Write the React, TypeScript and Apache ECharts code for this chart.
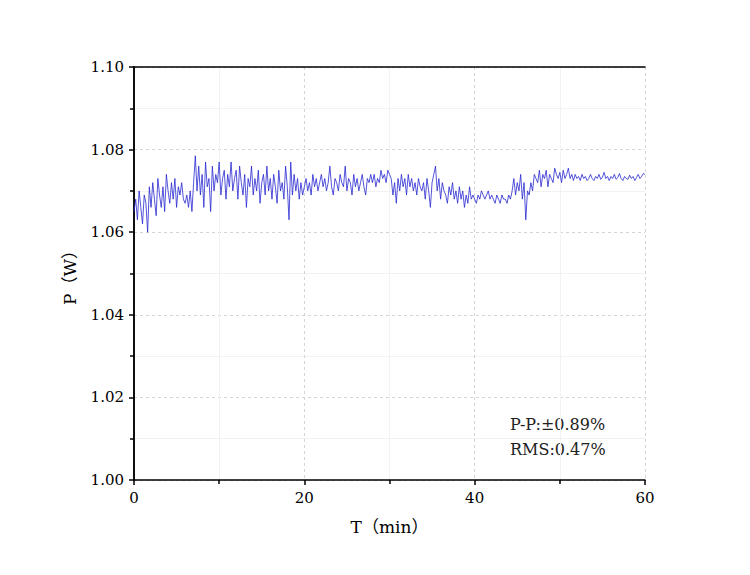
import { useEffect, useRef } from "react";
import * as echarts from "echarts";

const STEP = 0.2; // minutes between samples
const powerValues = [
  1.065, 1.068, 1.063, 1.07, 1.066, 1.062, 1.069, 1.067, 1.06, 1.071,
  1.066, 1.072, 1.068, 1.064, 1.073, 1.069, 1.066, 1.071, 1.065, 1.074,
  1.07, 1.067, 1.072, 1.068, 1.073, 1.066, 1.071, 1.069, 1.072, 1.068,
  1.067, 1.069, 1.066, 1.07, 1.065, 1.072, 1.0785, 1.07, 1.076, 1.069,
  1.074, 1.066, 1.077, 1.071, 1.073, 1.065, 1.076, 1.07, 1.074, 1.072,
  1.077, 1.069, 1.073, 1.075, 1.068, 1.074, 1.071, 1.077, 1.07, 1.073,
  1.075, 1.068, 1.076, 1.072, 1.069, 1.074, 1.066, 1.073, 1.071, 1.076,
  1.069, 1.073, 1.07, 1.075, 1.067, 1.072, 1.074, 1.069, 1.076, 1.07,
  1.073, 1.068, 1.074, 1.071, 1.067, 1.075, 1.07, 1.072, 1.068, 1.076,
  1.071, 1.063, 1.077, 1.069, 1.074, 1.07, 1.073, 1.068, 1.072, 1.069,
  1.071, 1.073, 1.07, 1.072, 1.069, 1.074, 1.071, 1.073, 1.07, 1.072,
  1.074, 1.071, 1.073, 1.07, 1.072, 1.076, 1.071, 1.069, 1.073, 1.072,
  1.07, 1.074, 1.072, 1.071, 1.076, 1.07, 1.073, 1.072, 1.069, 1.074,
  1.071, 1.073, 1.07, 1.072, 1.074, 1.071, 1.069, 1.073, 1.072, 1.074,
  1.072, 1.074, 1.071, 1.073, 1.072, 1.075, 1.073, 1.074, 1.072, 1.075,
  1.074, 1.073, 1.069, 1.072, 1.067, 1.073, 1.07, 1.074, 1.071, 1.073,
  1.069, 1.074, 1.071, 1.073, 1.07, 1.072, 1.069, 1.073, 1.071, 1.07,
  1.072, 1.068, 1.073, 1.07, 1.066, 1.072, 1.074, 1.076, 1.07, 1.073,
  1.068, 1.072, 1.07, 1.069, 1.067, 1.071, 1.069, 1.072, 1.068, 1.07,
  1.067, 1.071, 1.068, 1.07, 1.066, 1.069, 1.067, 1.071, 1.068, 1.069,
  1.068, 1.067, 1.069, 1.068, 1.07, 1.069, 1.068, 1.069, 1.07, 1.068,
  1.069, 1.068, 1.067, 1.069, 1.068, 1.067, 1.069, 1.068, 1.068, 1.067,
  1.069, 1.068, 1.07, 1.073, 1.069, 1.072, 1.07, 1.074, 1.068, 1.072,
  1.063, 1.07, 1.069, 1.072, 1.07, 1.074, 1.073, 1.072, 1.075, 1.071,
  1.074, 1.073, 1.075, 1.071, 1.074, 1.073, 1.072, 1.0755, 1.074, 1.073,
  1.0745, 1.072, 1.075, 1.073, 1.074, 1.0755, 1.073, 1.074, 1.0725, 1.074,
  1.073, 1.0735, 1.0725, 1.074, 1.073, 1.0735, 1.0725, 1.073, 1.074, 1.073,
  1.0725, 1.0735, 1.073, 1.074, 1.0728, 1.0733, 1.0745, 1.073, 1.0735, 1.0725,
  1.0735, 1.073, 1.074, 1.0728, 1.0732, 1.0742, 1.073, 1.0725, 1.0735, 1.073,
  1.0728, 1.0738, 1.073, 1.0735, 1.0725, 1.0732, 1.074, 1.073, 1.0735, 1.0742,
  1.074,
];
const annotations = ["P-P:±0.89%", "RMS:0.47%"];

const FONT = "'DejaVu Serif', 'Noto Sans CJK SC', serif";

export default function App() {
  const ref = useRef<HTMLDivElement>(null);

  useEffect(() => {
    if (!ref.current) return;
    const chart = echarts.init(ref.current, null, { renderer: "svg" });
    const axisLine = { show: true, lineStyle: { color: "#000", width: 1.5 } };
    const label = { fontFamily: FONT, fontSize: 15, color: "#000" };
    chart.setOption({
      animation: false,
      backgroundColor: "#fff",
      grid: { left: 134, right: 105, top: 67, bottom: 95 },
      xAxis: [
        {
          type: "value",
          min: 0,
          max: 60,
          interval: 20,
          name: "T（min）",
          nameLocation: "middle",
          nameGap: 38,
          nameTextStyle: { ...label, fontSize: 17 },
          axisLine,
          axisTick: { inside: false, length: 5, lineStyle: { color: "#000", width: 1.5 } },
          minorTick: { show: true, splitNumber: 2, length: 4, lineStyle: { color: "#000", width: 1.5 } },
          axisLabel: { ...label, margin: 10 },
          splitLine: { show: true, lineStyle: { color: "#d4d4d4", type: [3, 3] } },
          minorSplitLine: { show: true, lineStyle: { color: "#f2f2f2" } },
        },
        { type: "value", position: "top", min: 0, max: 60, axisLine, axisTick: { show: false }, axisLabel: { show: false }, splitLine: { show: false } },
      ],
      yAxis: [
        {
          type: "value",
          min: 1.0,
          max: 1.1,
          interval: 0.02,
          name: "P（W）",
          nameLocation: "middle",
          nameGap: 56,
          nameTextStyle: { ...label, fontSize: 17 },
          axisLine,
          axisTick: { inside: false, length: 5, lineStyle: { color: "#000", width: 1.5 } },
          minorTick: { show: true, splitNumber: 2, length: 4, lineStyle: { color: "#000", width: 1.5 } },
          axisLabel: { ...label, margin: 10, formatter: (v: number) => v.toFixed(2) },
          splitLine: { show: true, lineStyle: { color: "#d4d4d4", type: [3, 3] } },
          minorSplitLine: { show: true, lineStyle: { color: "#f2f2f2" } },
        },
        { type: "value", position: "right", min: 1.0, max: 1.1, axisLine, axisTick: { show: false }, axisLabel: { show: false }, splitLine: { show: false } },
      ],
      series: [
        {
          type: "line",
          data: powerValues.map((v, i) => [+(i * STEP).toFixed(1), v]),
          showSymbol: false,
          lineStyle: { color: "#2828d0", width: 0.8 },
        },
      ],
      graphic: annotations.map((t, i) => ({
        type: "text",
        left: 510,
        top: 416 + i * 25,
        style: { text: t, fontFamily: FONT, fontSize: 16, fill: "#222" },
      })),
    });
    return () => chart.dispose();
  }, []);

  return <div ref={ref} style={{ position: "fixed", left: 0, top: 0, width: 750, height: 575 }} />;
}
